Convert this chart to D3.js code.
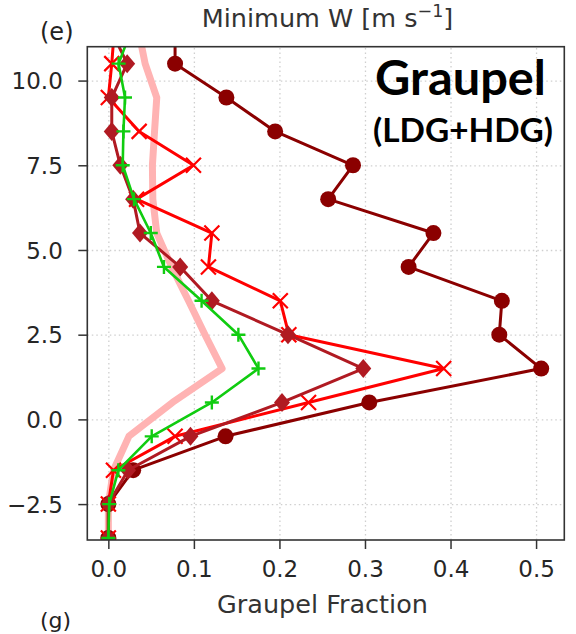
<!DOCTYPE html>
<html>
<head>
<meta charset="utf-8">
<script src="https://cdn.jsdelivr.net/npm/d3@7"></script>
<style>
  body { margin: 0; background: #fff; }
  svg { display: block; }
</style>
</head>
<body>
<svg id="chart" width="576" height="634"></svg>
<script>
// Height levels [km] and graupel fraction profiles at each level
const heights = [11.5, 10.5, 9.5, 8.5, 7.5, 6.5, 5.5, 4.5, 3.5, 2.5, 1.5, 0.5, -0.5, -1.5, -2.5, -3.5];
const fracCircle  = [0.078, 0.078, 0.138, 0.195, 0.286, 0.257, 0.380, 0.351, 0.460, 0.457, 0.506, 0.305, 0.137, 0.029, 0.0, 0.0];
const fracDiamond = [0.003, 0.022, 0.004, 0.004, 0.014, 0.029, 0.037, 0.084, 0.121, 0.210, 0.298, 0.203, 0.096, 0.023, 0.0, 0.0];
const fracCross   = [0.007, 0.004, 0.0, 0.036, 0.0995, 0.033, 0.121, 0.117, 0.201, 0.211, 0.392, 0.234, 0.078, 0.006, 0.0, 0.0];
const fracPlus    = [0.027, 0.012, 0.0195, 0.0176, 0.0168, 0.030, 0.0496, 0.065, 0.109, 0.152, 0.1755, 0.121, 0.0507, 0.0117, 0.001, 0.0];
const fracMean    = [0.035, 0.043, 0.0566, 0.054, 0.0515, 0.052, 0.0566, 0.074, 0.0937, 0.113, 0.133, 0.075, 0.024, 0.006, 0.0, 0.0];

const xTicks = [0, 0.1, 0.2, 0.3, 0.4, 0.5];
const yTicks = [-2.5, 0, 2.5, 5, 7.5, 10];

const titleMain = "Minimum W [m s";
const titleSup = "\u22121";
const xLabel = "Graupel Fraction";
const boxTitle = "Graupel";
const boxSub = "(LDG+HDG)";

const svg = d3.select("#chart");
const area = { left: 87.3, right: 564.3, top: 46.7, bottom: 540 };

const x = d3.scaleLinear().domain([-0.0246, 0.533]).range([area.left, area.right]);
const y = d3.scaleLinear().domain([-3.56, 11.0]).range([area.bottom, area.top]);

const tickFont = "'DejaVu Sans', sans-serif";
const textColor = "#262626";

svg.append("defs").append("clipPath").attr("id", "plotClip")
  .append("rect")
  .attr("x", area.left).attr("y", area.top)
  .attr("width", area.right - area.left).attr("height", area.bottom - area.top);

// dotted grid
const grid = svg.append("g");
grid.append("g")
  .attr("transform", `translate(0,${area.bottom})`)
  .call(d3.axisBottom(x).tickValues(xTicks).tickSize(-(area.bottom - area.top)).tickFormat(""))
  .call(g => g.select(".domain").remove());
grid.append("g")
  .attr("transform", `translate(${area.left},0)`)
  .call(d3.axisLeft(y).tickValues(yTicks).tickSize(-(area.right - area.left)).tickFormat(""))
  .call(g => g.select(".domain").remove());
grid.selectAll("line")
  .attr("stroke", "#cfcfcf").attr("stroke-width", 1.3).attr("stroke-dasharray", "1.5,3");

// profiles
const plot = svg.append("g").attr("clip-path", "url(#plotClip)");
const line = d3.line().x(d => x(d.v)).y(d => y(d.h));
const rows = arr => arr.map((v, i) => ({ v, h: heights[i] }));

const series = [
  { data: fracMean,    color: "#ffb3b3", width: 7,   marker: null },
  { data: fracCircle,  color: "#8b0000", width: 3,   marker: "circle" },
  { data: fracCross,   color: "#ff0000", width: 3,   marker: "x" },
  { data: fracDiamond, color: "#b01a22", width: 3,   marker: "diamond" },
  { data: fracPlus,    color: "#10cc10", width: 2.6, marker: "plus" }
];

series.forEach(s => {
  const pts = rows(s.data);
  const g = plot.append("g");
  g.append("path").datum(pts)
    .attr("d", line)
    .attr("fill", "none")
    .attr("stroke", s.color)
    .attr("stroke-width", s.width)
    .attr("stroke-linejoin", "round")
    .attr("stroke-linecap", "round");
  if (!s.marker) return;
  const m = g.selectAll(".m").data(pts).enter().append("g")
    .attr("transform", d => `translate(${x(d.v)},${y(d.h)})`);
  if (s.marker === "circle") {
    m.append("circle").attr("r", 8).attr("fill", s.color);
  } else if (s.marker === "diamond") {
    m.append("path").attr("d", "M0,-9.5L8,0L0,9.5L-8,0Z").attr("fill", s.color);
  } else if (s.marker === "x") {
    m.append("path").attr("d", "M-7.5,-7.5L7.5,7.5M-7.5,7.5L7.5,-7.5")
      .attr("stroke", s.color).attr("stroke-width", 2.2).attr("fill", "none");
  } else if (s.marker === "plus") {
    m.append("path").attr("d", "M-7,0L7,0M0,-7L0,7")
      .attr("stroke", s.color).attr("stroke-width", 2.4).attr("fill", "none");
  }
});

// axes
const xAxis = svg.append("g")
  .attr("transform", `translate(0,${area.bottom})`)
  .call(d3.axisBottom(x).tickValues(xTicks).tickSize(9).tickFormat(d3.format(".1f")));
xAxis.selectAll("text").attr("y", 0).attr("dy", null).attr("transform", "translate(0,37)");
const yAxis = svg.append("g")
  .attr("transform", `translate(${area.left},0)`)
  .call(d3.axisLeft(y).tickValues(yTicks).tickSize(9).tickFormat(d3.format(".1f")));
yAxis.selectAll("text").attr("x", -24.5).attr("dy", "0.36em");

[xAxis, yAxis].forEach(a => {
  a.select(".domain").remove();
  a.selectAll("line").attr("stroke", "#333").attr("stroke-width", 1.5);
  a.selectAll("text").attr("font-family", tickFont).attr("font-size", 23).attr("fill", textColor);
});

// frame
svg.append("rect")
  .attr("x", area.left).attr("y", area.top)
  .attr("width", area.right - area.left).attr("height", area.bottom - area.top)
  .attr("fill", "none").attr("stroke", "#333").attr("stroke-width", 1.6);

// title with superscript
const title = svg.append("text")
  .attr("x", 327.5).attr("y", 27)
  .attr("text-anchor", "middle")
  .attr("font-family", tickFont).attr("font-size", 25.5).attr("fill", "#333");
title.append("tspan").text(titleMain);
title.append("tspan").attr("font-size", 17.5).attr("dy", -10).text(titleSup);
title.append("tspan").attr("dy", 10).text("]");

// axis label
svg.append("text")
  .attr("x", 322.5).attr("y", 613)
  .attr("text-anchor", "middle")
  .attr("font-family", tickFont).attr("font-size", 25.5).attr("fill", "#333")
  .text(xLabel);

// panel letters
svg.append("text").attr("x", 40).attr("y", 40)
  .attr("font-family", tickFont).attr("font-size", 24).attr("fill", "#222").text("(e)");
svg.append("text").attr("x", 40).attr("y", 628)
  .attr("font-family", tickFont).attr("font-size", 22).attr("fill", "#222").text("(g)");

// annotation
svg.append("text").attr("x", 460.5).attr("y", 95)
  .attr("text-anchor", "middle")
  .attr("font-family", "Lato, 'Open Sans', sans-serif").attr("font-weight", "bold")
  .attr("font-size", 47).attr("fill", "#000")
  .attr("textLength", 171).attr("lengthAdjust", "spacingAndGlyphs")
  .text(boxTitle);
svg.append("text").attr("x", 463).attr("y", 141.5)
  .attr("text-anchor", "middle")
  .attr("font-family", "Lato, 'Open Sans', sans-serif").attr("font-weight", "bold")
  .attr("font-size", 33).attr("fill", "#000")
  .attr("textLength", 180).attr("lengthAdjust", "spacingAndGlyphs")
  .text(boxSub);
</script>
</body>
</html>
